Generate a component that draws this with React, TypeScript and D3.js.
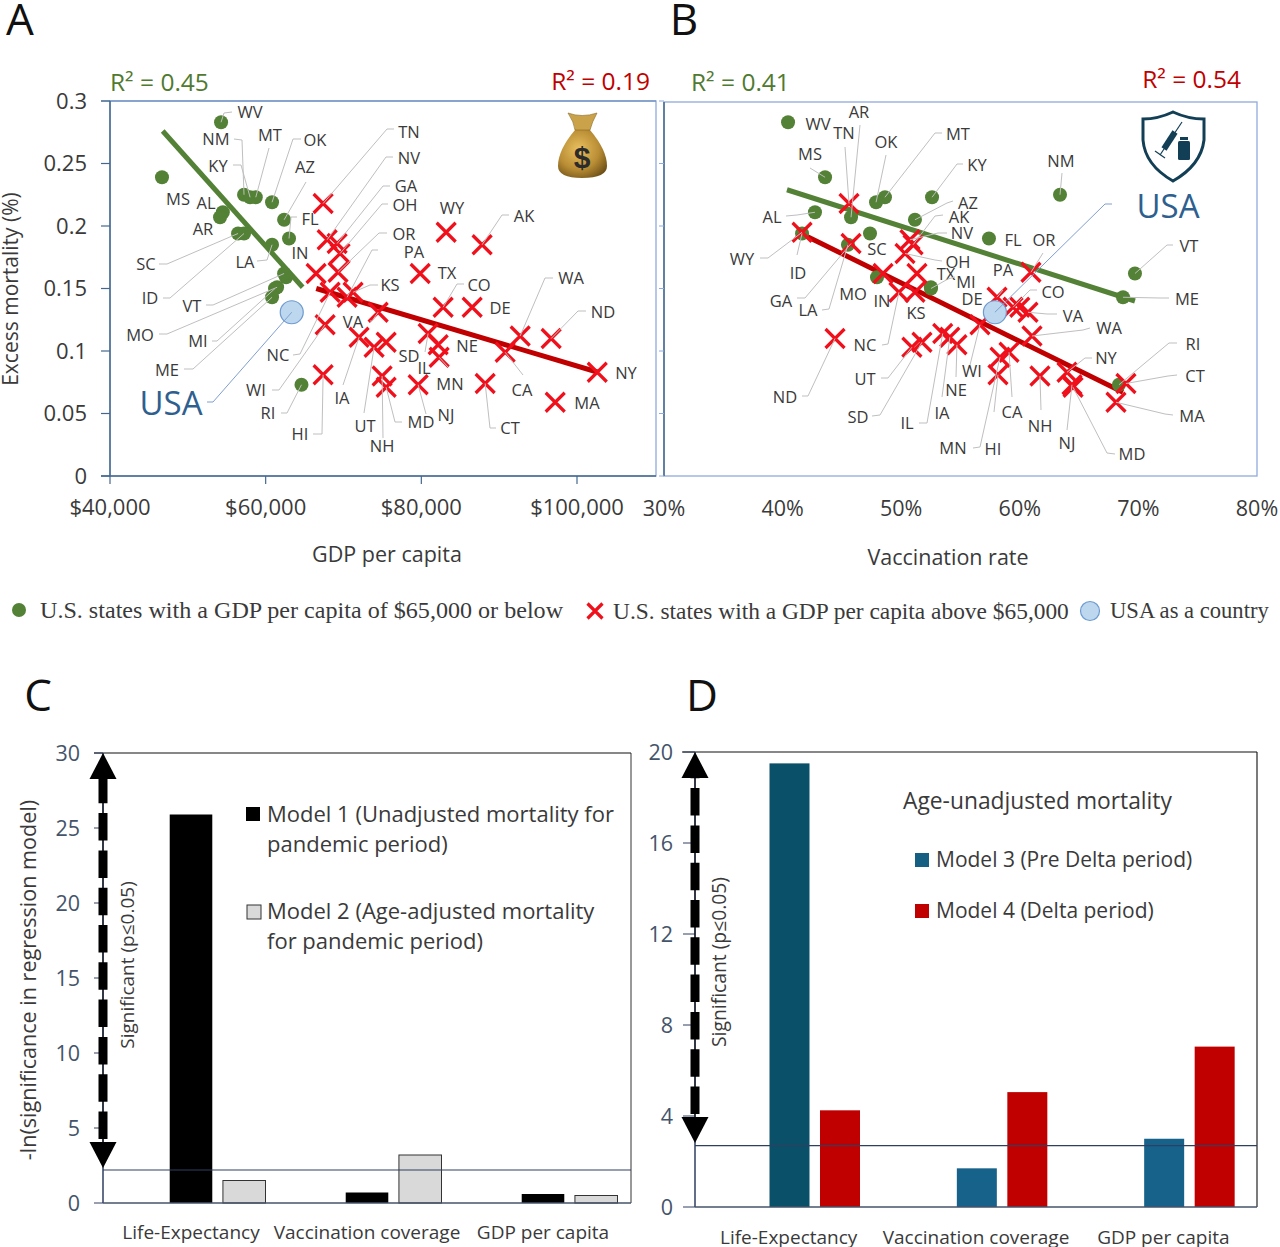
import React from "react";
import * as d3 from "d3";

// ---------- data: panels A and B ----------
const greenStates = ["WV","MS","NM","KY","MT","OK","AZ","FL","AL","AR","SC","ID","LA","IN","VT","MO","MI","ME","RI"];
const greenGdp = [54.27,46.68,57.22,58.0,58.73,60.82,62.37,63.0,54.5,54.14,56.45,57.22,60.82,62.62,62.37,61.47,61.2,60.82,64.6];
const greenVacc = [40.46,43.58,63.39,52.6,48.63,47.88,51.16,57.4,42.73,45.77,47.37,41.64,45.51,47.96,69.71,52.5,52.51,68.7,68.36];
const greenMort = [0.283,0.239,0.225,0.223,0.223,0.219,0.205,0.19,0.211,0.207,0.194,0.194,0.185,0.159,0.162,0.151,0.15,0.143,0.073];

const redStates = ["TN","NV","GA","OH","OR","?","NC","KS","PA","WI","VA","IA","UT","SD","NH","MD","HI","NJ","TX","WY","AK","CO","DE","IL","NE","MN","CT","CA","WA","ND","NY","MA"];
const redGdp = [67.38,67.9,69.18,69.56,69.3,66.48,68.28,71.23,70.46,67.64,74.45,72.0,73.93,75.48,74.96,75.48,67.38,79.59,79.85,83.19,87.81,82.8,86.53,80.87,82.16,82.29,88.2,90.77,92.7,96.68,102.6,97.2];
const redVacc = [45.6,50.74,45.77,50.32,60.94,48.47,49.81,51.16,58.08,56.64,60.69,54.1,50.9,51.75,61.7,64.49,58.16,64.4,51.33,41.64,51.0,59.43,60.0,53.5,54.7,58.33,68.95,59.09,61.03,44.42,63.98,68.11];
const redMort = [0.218,0.189,0.186,0.178,0.163,0.162,0.147,0.147,0.143,0.121,0.131,0.111,0.103,0.107,0.08,0.071,0.081,0.073,0.162,0.195,0.185,0.135,0.135,0.114,0.105,0.095,0.074,0.099,0.112,0.11,0.083,0.059];

const usaGdp = 63.35;
const usaVacc = 57.9;
const usaMort = 0.131;

const trendGreenGdp = [46.77, 64.75];
const trendGreenGdpY = [0.276, 0.151];
const trendRedGdp = [66.5, 102.7];
const trendRedGdpY = [0.15, 0.083];
const trendGreenVacc = [40.37, 69.71];
const trendGreenVaccY = [0.229, 0.14];
const trendRedVacc = [41.55, 68.7];
const trendRedVaccY = [0.194, 0.067];

const mortTicks = [0, 0.05, 0.1, 0.15, 0.2, 0.25, 0.3];
const gdpTicks = [40, 60, 80, 100];
const vaccTicks = [30, 40, 50, 60, 70, 80];

// ---------- data: panels C and D ----------
const groups = ["Life-Expectancy", "Vaccination coverage", "GDP per capita"];
const slots = ["blank", "first", "second"];
const model1 = [25.9, 0.7, 0.6];
const model2 = [1.5, 3.2, 0.5];
const model3 = [19.5, 1.7, 3.0];
const model4 = [4.25, 5.05, 7.05];
const model3Colors = ["#0b5069", "#17628a", "#17628a"];
const thresholdC = 2.2;
const thresholdD = 2.7;
const ticksC = [0, 5, 10, 15, 20, 25, 30];
const ticksD = [0, 4, 8, 12, 16, 20];

// ---------- annotation layout (label centre, then leader start and elbow) ----------
type Lay = number[];
const labelsA: Record<string, Lay> = {
  WV:[250,112,232,112,224,113], NM:[216,139,234,139,242,140], MT:[270,135,269,148], OK:[315,140,301,139,293,139],
  KY:[218,166,233,165,241,165], AZ:[305,167,306,182], FL:[310,219,297,217,291,217], MS:[178,199], AL:[206,203], AR:[203,229],
  IN:[300,253], LA:[245,262,257,261,267,260], SC:[146,264,159,264,167,264], ID:[150,298,163,298,170,298],
  VT:[192,306,206,305,213,305], MO:[140,335,159,334,167,334], MI:[198,341,212,341,217,341], ME:[167,370,184,369,193,369],
  NC:[278,355,293,355,300,354], WI:[256,390,272,390,279,390], RI:[268,413,281,413,287,413], HI:[300,434,313,434,322,434],
  TN:[409,132,394,129,387,129], NV:[409,158,393,157,386,157], GA:[406,186,390,186,383,186], OH:[405,205,388,204,382,204],
  OR:[404,234,387,233,379,233], PA:[414,252,378,250,372,250], KS:[390,285,378,285,370,285], VA:[353,322,370,321,372,321],
  IA:[342,398,343,385], UT:[365,426,364,413], NH:[382,446,383,438], MD:[421,422,402,422,395,422], NJ:[446,415,426,414],
  SD:[409,356], IL:[424,368,425,352], NE:[467,346], MN:[450,384,448,367], CT:[510,428,496,428,490,428], CA:[522,390,523,375],
  MA:[587,403], NY:[626,373], ND:[603,312,586,311,578,311], WA:[571,278,553,278,545,278], DE:[500,308],
  CO:[479,285,464,284,457,284], TX:[447,273], AK:[524,216,509,215,502,215], WY:[452,208],
};
const labelsB: Record<string, Lay> = {
  WV:[818,124], AR:[859,112,860,125], TN:[844,133,845,147], OK:[886,142,886,155], MT:[958,134,942,133,935,133],
  KY:[977,165,963,164,957,164], MS:[810,154,810,168], AL:[772,217,786,216,797,215], AZ:[968,203,953,201,947,203],
  AK:[959,217,943,215,935,216], NV:[962,233,947,233,938,233], OH:[958,262,942,261,935,260], WY:[742,259,760,258,768,258],
  ID:[798,273,797,255], SC:[877,249], GA:[781,301,797,298,805,298], LA:[808,310,822,310,829,309], MO:[853,294], IN:[882,301],
  TX:[946,274], MI:[966,282,955,277,948,279], KS:[916,313], DE:[972,299], NC:[865,345,882,345,888,344], ND:[785,397,802,396,808,396],
  UT:[865,379,881,378,888,378], SD:[858,417,872,416,880,415], IL:[907,423,919,423,927,423], IA:[942,413,942,397], NE:[956,390,956,377],
  MN:[953,448,973,448,980,447], WI:[972,371,970,365], HI:[993,449,994,412], CA:[1012,412,1012,397], NH:[1040,426,1041,410],
  NJ:[1067,443,1067,430], MD:[1132,454,1115,454,1107,453], MA:[1192,416,1173,415,1165,414], CT:[1195,376,1177,375,1168,376],
  RI:[1193,344,1177,343,1169,343], NY:[1106,358,1092,358,1085,358], WA:[1109,328,1090,328,1083,330], VA:[1073,316,1057,314,1047,314],
  CO:[1053,292,1037,290,1030,290], PA:[1003,270,1003,290], OR:[1044,240,1043,253], FL:[1013,240], NM:[1061,161,1062,173],
  VT:[1189,246,1173,245,1167,245], ME:[1187,299,1169,298,1160,298],
};

const SANS = "'Open Sans', sans-serif";
const SERIF = "'Liberation Serif', serif";
const TXT = "#3a3a3a";
const SLATE = "#44546a";

// ---------- scales ----------
const yMort = d3.scaleLinear().domain([0, 0.3]).range([476, 101]);
const xGdp = d3.scaleLinear().domain([40, 100]).range([110, 577]);
const xVacc = d3.scaleLinear().domain([30, 80]).range([664, 1257]);
const yC = d3.scaleLinear().domain([0, 30]).range([1203, 753]);
const yD = d3.scaleLinear().domain([0, 20]).range([1207, 752]);
const gC = d3.scaleBand<string>().domain(groups).range([103, 631]);
const gD = d3.scaleBand<string>().domain(groups).range([695, 1257]);
const sC = d3.scaleBand<string>().domain(slots).range([13.5, 162.5]).paddingInner(0.2);
const sD = d3.scaleBand<string>().domain(slots).range([24, 165]).paddingInner(0.208);
const lineGen = d3.line<[number, number]>();

function Cross({ x, y, r = 9.5, w = 3.2 }: { x: number; y: number; r?: number; w?: number }) {
  return (
    <path d={`M${x - r},${y - r}L${x + r},${y + r}M${x - r},${y + r}L${x + r},${y - r}`} stroke="#f0101c" strokeWidth={w} fill="none" />
  );
}

function Scatter({ x, gx, rx, usaX, tg, tgy, tr, try_, labels }: any) {
  const pts: Record<string, [number, number]> = {};
  greenStates.forEach((s, i) => (pts[s] = [x(gx[i]), yMort(greenMort[i])]));
  redStates.forEach((s, i) => (pts[s] = [x(rx[i]), yMort(redMort[i])]));
  return (
    <g>
      <path d={lineGen([[x(tg[0]), yMort(tgy[0])], [x(tg[1]), yMort(tgy[1])]]) as string} stroke="#538135" strokeWidth={5} fill="none" />
      <path d={lineGen([[x(tr[0]), yMort(try_[0])], [x(tr[1]), yMort(try_[1])]]) as string} stroke="#c00000" strokeWidth={5} fill="none" />
      {greenStates.map((s, i) => <circle key={s} cx={x(gx[i])} cy={yMort(greenMort[i])} r={7} fill="#538135" />)}
      {redStates.map((s, i) => <Cross key={s} x={x(rx[i])} y={yMort(redMort[i])} />)}
      <circle cx={x(usaX)} cy={yMort(usaMort)} r={11.5} fill="#bdd7ee" stroke="#6f9bd1" strokeWidth={1.2} />
      {Object.entries(labels as Record<string, Lay>).map(([s, l]) => {
        const p = pts[s];
        const path = l.length > 2 && p
          ? lineGen([...(l.length > 4 ? [[l[2], l[3]], [l[4], l[5]]] : [[l[2], l[3]]]), p] as [number, number][])
          : null;
        return (
          <g key={s}>
            {path && <path d={path as string} stroke="#bfbfbf" strokeWidth={1} fill="none" />}
            <text x={l[0]} y={l[1]} dy=".35em" textAnchor="middle" fontFamily={SANS} fontSize={16.5} fill={TXT}>{s}</text>
          </g>
        );
      })}
    </g>
  );
}

function DoubleArrow({ x, top, tip, sw = 9 }: { x: number; top: number; tip: number; sw?: number }) {
  const hw = 13.5, hh = 26;
  return (
    <g>
      <line x1={x} x2={x} y1={top + hh} y2={tip - hh} stroke="#000" strokeWidth={1} />
      <line x1={x} x2={x} y1={tip - hh - 3} y2={top + hh} stroke="#000" strokeWidth={sw} strokeDasharray="27.5 9.8" />
      <path d={`M${x},${top}L${x + hw},${top + hh}L${x - hw},${top + hh}Z`} fill="#000" />
      <path d={`M${x},${tip}L${x + hw},${tip - hh}L${x - hw},${tip - hh}Z`} fill="#000" />
    </g>
  );
}

export default function App() {
  return (
    <svg width={1280} height={1247} viewBox="0 0 1280 1247" style={{ position: "absolute", left: 0, top: 0, background: "#fff" }}>
      {/* panel letters */}
      {[["A", 20, 35], ["B", 684, 35], ["C", 38, 711], ["D", 702, 711]].map(([t, x, y]) => (
        <text key={t as string} x={x as number} y={y as number} textAnchor="middle" fontFamily={SANS} fontSize={44} fill="#111">{t}</text>
      ))}

      {/* panel A frame and axes */}
      <rect x={110} y={101} width={546} height={375} fill="none" stroke="#8faadc" strokeWidth={1.3} />
      <line x1={101} x2={656} y1={101} y2={101} stroke="#5b82b5" strokeWidth={1.2} />
      <line x1={110} x2={110} y1={101} y2={476} stroke="#44688e" strokeWidth={1.5} />
      <line x1={101} x2={656} y1={476} y2={476} stroke="#44688e" strokeWidth={1.5} />
      {mortTicks.map(t => (
        <g key={t}>
          <line x1={101} x2={110} y1={yMort(t)} y2={yMort(t)} stroke="#44688e" strokeWidth={1.2} />
          <text x={87} y={yMort(t)} dy=".35em" textAnchor="end" fontFamily={SANS} fontSize={22} fill={TXT}>{t}</text>
        </g>
      ))}
      {gdpTicks.map(t => (
        <g key={t}>
          <line x1={xGdp(t)} x2={xGdp(t)} y1={476} y2={484} stroke="#44688e" strokeWidth={1.2} />
          <text x={xGdp(t)} y={507} dy=".35em" textAnchor="middle" fontFamily={SANS} fontSize={22} fill={TXT}>{d3.format("$,")(t * 1000)}</text>
        </g>
      ))}
      <text transform="translate(11,289) rotate(-90)" dy=".35em" textAnchor="middle" fontFamily={SANS} fontSize={21} fill={TXT}>Excess mortality (%)</text>
      <text x={387} y={554} dy=".35em" textAnchor="middle" fontFamily={SANS} fontSize={21.5} fill={TXT}>GDP per capita</text>
      <text x={110} y={82} dy=".35em" fontFamily={SANS} fontSize={24.5} fill="#4f7a30">R² = 0.45</text>
      <text x={650} y={81} dy=".35em" textAnchor="end" fontFamily={SANS} fontSize={24.5} fill="#c00000">R² = 0.19</text>

      {/* panel B frame and axes */}
      <rect x={664} y={102} width={593} height={374} fill="none" stroke="#8faadc" strokeWidth={1.3} />
      <line x1={664} x2={664} y1={102} y2={476} stroke="#44688e" strokeWidth={1.5} />
      {mortTicks.map(t => (
        <line key={t} x1={659} x2={664} y1={yMort(t)} y2={yMort(t)} stroke="#8faadc" strokeWidth={1} />
      ))}
      {vaccTicks.map(t => (
        <text key={t} x={xVacc(t)} y={508} dy=".35em" textAnchor="middle" fontFamily={SANS} fontSize={21.5} fill={TXT}>{t}%</text>
      ))}
      <text x={948} y={557} dy=".35em" textAnchor="middle" fontFamily={SANS} fontSize={21.5} fill={TXT}>Vaccination rate</text>
      <text x={691} y={82} dy=".35em" fontFamily={SANS} fontSize={24.5} fill="#4f7a30">R² = 0.41</text>
      <text x={1241} y={79} dy=".35em" textAnchor="end" fontFamily={SANS} fontSize={24.5} fill="#c00000">R² = 0.54</text>

      <Scatter x={xGdp} gx={greenGdp} rx={redGdp} usaX={usaGdp} tg={trendGreenGdp} tgy={trendGreenGdpY} tr={trendRedGdp} try_={trendRedGdpY} labels={labelsA} />
      <Scatter x={xVacc} gx={greenVacc} rx={redVacc} usaX={usaVacc} tg={trendGreenVacc} tgy={trendGreenVaccY} tr={trendRedVacc} try_={trendRedVaccY} labels={labelsB} />

      {/* USA call-outs */}
      <path d={lineGen([[207, 402], [213, 402], [xGdp(usaGdp), yMort(usaMort)]]) as string} stroke="#7f9fd0" strokeWidth={1} fill="none" />
      <text x={171} y={403} dy=".35em" textAnchor="middle" fontFamily={SANS} fontSize={33} fill="#2e5f8f">USA</text>
      <path d={lineGen([[1112, 204], [1105, 204], [xVacc(usaVacc), yMort(usaMort)]]) as string} stroke="#7f9fd0" strokeWidth={1} fill="none" />
      <text x={1168} y={206} dy=".35em" textAnchor="middle" fontFamily={SANS} fontSize={33} fill="#2e5f8f">USA</text>

      {/* money bag */}
      <defs>
        <radialGradient id="bag" cx="42%" cy="40%" r="70%">
          <stop offset="0%" stopColor="#e8c060" />
          <stop offset="60%" stopColor="#b98d34" />
          <stop offset="100%" stopColor="#6d5018" />
        </radialGradient>
      </defs>
      <path d="M575,130 Q558,150 558,166 Q558,178 582,178 Q607,178 607,166 Q607,150 590,130 Z" fill="url(#bag)" />
      <path d="M568,113 Q582,118 597,113 Q592,122 590,130 L575,130 Q574,122 568,113 Z" fill="#c9a24a" stroke="#8a6a24" strokeWidth={0.6} />
      <text x={582} y={168} textAnchor="middle" fontFamily="'Liberation Sans', sans-serif" fontWeight={700} fontSize={30} fill="#2b2b2b">$</text>

      {/* shield */}
      <path d="M1173,112 Q1158,119 1143,119 L1143,140 Q1145,165 1173,181 Q1201,165 1204,140 L1204,119 Q1188,119 1173,112 Z" fill="#fff" stroke="#123f55" strokeWidth={3} />
      <line x1={1160} y1={155} x2={1182} y2={122} stroke="#123f55" strokeWidth={1.2} />
      <line x1={1164} y1={149} x2={1175} y2={132} stroke="#123f55" strokeWidth={6} />
      <line x1={1155} y1={151} x2={1165} y2={158} stroke="#123f55" strokeWidth={1.2} />
      <rect x={1178} y={141} width={12} height={19} rx={1.5} fill="#123f55" />
      <rect x={1180} y={137} width={8} height={3} fill="#123f55" />

      {/* scatter legend */}
      <circle cx={19} cy={610} r={7} fill="#538135" />
      <text x={40} y={610} dy=".33em" fontFamily={SERIF} fontSize={24.1} fill={TXT}>U.S. states with a GDP per capita of $65,000 or below</text>
      <Cross x={595} y={611} r={7.5} w={3.2} />
      <text x={613} y={611} dy=".33em" fontFamily={SERIF} fontSize={23.4} fill={TXT}>U.S. states with a GDP per capita above $65,000</text>
      <circle cx={1090} cy={611} r={9.5} fill="#bdd7ee" stroke="#6f9bd1" strokeWidth={1.2} />
      <text x={1110} y={611} dy=".33em" fontFamily={SERIF} fontSize={22.6} fill={TXT}>USA as a country</text>

      {/* panel C */}
      <path d="M631,753 L631,1203" stroke="#333" strokeWidth={1} />
      <line x1={94} x2={631} y1={yC(30)} y2={yC(30)} stroke="#111" strokeWidth={1.2} />
      {groups.map((g, i) => (
        <g key={g}>
          <rect x={(gC(g) as number) + (sC("first") as number)} y={yC(model1[i])} width={sC.bandwidth()} height={yC(0) - yC(model1[i])} fill="#000" />
          <rect x={(gC(g) as number) + (sC("second") as number)} y={yC(model2[i])} width={sC.bandwidth()} height={yC(0) - yC(model2[i])} fill="#d9d9d9" stroke="#333" strokeWidth={1} />
          <text x={(gC(g) as number) + gC.bandwidth() / 2} y={1232} dy=".35em" textAnchor="middle" fontFamily={SANS} fontSize={19} fill={TXT}>{g}</text>
        </g>
      ))}
      <line x1={103} x2={631} y1={yC(thresholdC)} y2={yC(thresholdC)} stroke="#2f3f60" strokeWidth={1.1} />
      <line x1={103} x2={103} y1={yC(30)} y2={yC(0)} stroke="#2f3f60" strokeWidth={1.5} />
      <line x1={103} x2={631} y1={yC(0)} y2={yC(0)} stroke="#44546a" strokeWidth={1.5} />
      {ticksC.map(t => (
        <g key={t}>
          <line x1={94} x2={103} y1={yC(t)} y2={yC(t)} stroke="#2f3f60" strokeWidth={1} />
          <text x={80} y={yC(t)} dy=".35em" textAnchor="end" fontFamily={SANS} fontSize={21.5} fill={SLATE}>{t}</text>
        </g>
      ))}
      <DoubleArrow x={103} top={753} tip={1168} />
      <text transform="translate(28,980) rotate(-90)" dy=".35em" textAnchor="middle" fontFamily={SANS} fontSize={21.6} fill={TXT}>-ln(significance in regression model)</text>
      <text transform="translate(127,965) rotate(-90)" dy=".35em" textAnchor="middle" fontFamily={SANS} fontSize={19} fill={TXT}>Significant (p≤0.05)</text>
      <rect x={246} y={807} width={14} height={14} fill="#000" />
      <rect x={247} y={905} width={14} height={14} fill="#d9d9d9" stroke="#333" strokeWidth={1} />
      {[["Model 1 (Unadjusted mortality for", 814], ["pandemic period)", 844], ["Model 2 (Age-adjusted mortality", 911], ["for pandemic period)", 941]].map(([t, y]) => (
        <text key={t as string} x={267} y={y as number} dy=".35em" fontFamily={SANS} fontSize={22} fill={TXT}>{t}</text>
      ))}

      {/* panel D */}
      <path d="M1257,752 L1257,1207" stroke="#222" strokeWidth={1.2} />
      <line x1={682} x2={1257} y1={yD(20)} y2={yD(20)} stroke="#111" strokeWidth={1.2} />
      {groups.map((g, i) => (
        <g key={g}>
          <rect x={(gD(g) as number) + (sD("first") as number)} y={yD(model3[i])} width={sD.bandwidth()} height={yD(0) - yD(model3[i])} fill={model3Colors[i]} />
          <rect x={(gD(g) as number) + (sD("second") as number)} y={yD(model4[i])} width={sD.bandwidth()} height={yD(0) - yD(model4[i])} fill="#c00000" />
          <text x={(gD(g) as number) + gD.bandwidth() / 2} y={1237} dy=".35em" textAnchor="middle" fontFamily={SANS} fontSize={19} fill={TXT}>{g}</text>
        </g>
      ))}
      <line x1={695} x2={1257} y1={yD(thresholdD)} y2={yD(thresholdD)} stroke="#2f3f60" strokeWidth={1.1} />
      <line x1={695} x2={695} y1={yD(20)} y2={yD(0)} stroke="#2f3f60" strokeWidth={1.5} />
      <line x1={695} x2={1257} y1={yD(0)} y2={yD(0)} stroke="#44546a" strokeWidth={1.5} />
      {ticksD.map(t => (
        <g key={t}>
          <line x1={683} x2={695} y1={yD(t)} y2={yD(t)} stroke="#2f3f60" strokeWidth={1} />
          <text x={673} y={yD(t)} dy=".35em" textAnchor="end" fontFamily={SANS} fontSize={21.5} fill={SLATE}>{t}</text>
        </g>
      ))}
      <DoubleArrow x={695} top={752} tip={1143} />
      <text transform="translate(719,962) rotate(-90)" dy=".35em" textAnchor="middle" fontFamily={SANS} fontSize={19.3} fill={TXT}>Significant (p≤0.05)</text>
      <text x={903} y={801} dy=".35em" fontFamily={SANS} fontSize={22.8} fill={TXT}>Age-unadjusted mortality</text>
      <rect x={915} y={853} width={14} height={14} fill="#156082" />
      <text x={936} y={860} dy=".35em" fontFamily={SANS} fontSize={21} fill={TXT}>Model 3 (Pre Delta period)</text>
      <rect x={915} y={904} width={14} height={14} fill="#c00000" />
      <text x={936} y={911} dy=".35em" fontFamily={SANS} fontSize={21} fill={TXT}>Model 4 (Delta period)</text>
    </svg>
  );
}
